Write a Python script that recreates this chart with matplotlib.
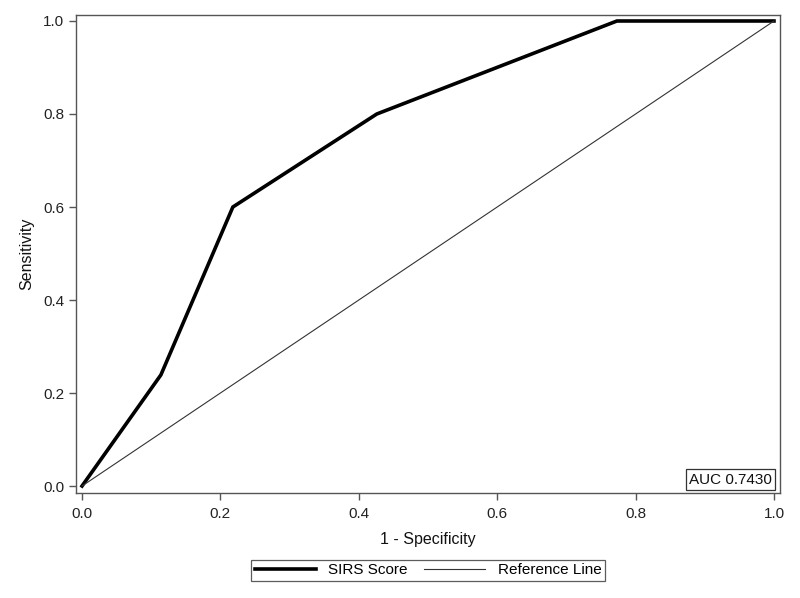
import matplotlib
matplotlib.use("Agg")
import matplotlib.pyplot as plt
from matplotlib.lines import Line2D

plt.rcParams['font.family'] = ['Liberation Sans', 'DejaVu Sans']

# ROC curve for the SIRS score
fpr = [0.0, 0.114, 0.218, 0.426, 0.773, 1.0]
tpr = [0.0, 0.239, 0.600, 0.800, 1.000, 1.0]
ref_x = [0.0, 1.0]
ref_y = [0.0, 1.0]
ticks = [0.0, 0.2, 0.4, 0.6, 0.8, 1.0]
auc_text = "AUC 0.7430"

fig = plt.figure(figsize=(8, 5.98), dpi=100)
ax = fig.add_axes([0.095, 0.1756, 0.88, 0.7994])

ax.plot(fpr, tpr, color='black', linewidth=2.6, solid_joinstyle='miter')
ax.plot(ref_x, ref_y, color='#333333', linewidth=0.8)

ax.set_xlim(-0.0087, 1.0087)
ax.set_ylim(-0.015, 1.013)
ax.set_xticks(ticks)
ax.set_yticks(ticks)
ax.set_xticklabels([f"{t:.1f}" for t in ticks])
ax.set_yticklabels([f"{t:.1f}" for t in ticks])
ax.tick_params(direction='out', length=5, width=1, color='#555555',
               labelsize=11, labelcolor='#222222')
ax.tick_params(axis='x', pad=5)
for sp in ax.spines.values():
    sp.set_color('#555555')
    sp.set_linewidth(1.0)

ax.set_xlabel("1 - Specificity", fontsize=11.5, color='#111111', labelpad=8)
ax.set_ylabel("Sensitivity", fontsize=11.5, color='#111111', labelpad=6)

ax.text(0.9885, 0.013, auc_text, transform=ax.transAxes, ha='right', va='bottom',
        fontsize=11, color='#111111',
        bbox=dict(boxstyle='square,pad=0.22', facecolor='white',
                  edgecolor='#333333', linewidth=0.9))

handles = [Line2D([], [], color='black', linewidth=2.6),
           Line2D([], [], color='#333333', linewidth=0.8)]
fig.legend(handles, ["SIRS Score", "Reference Line"], loc='center',
           bbox_to_anchor=(0.535, 0.046), ncol=2, frameon=True, fancybox=False,
           edgecolor='#333333', fontsize=11, handlelength=4.0,
           columnspacing=1.1, borderpad=0.25, handletextpad=0.8)
fig.legends[0].get_frame().set_linewidth(0.9)

fig.savefig("out.png", dpi=100, facecolor='white')
